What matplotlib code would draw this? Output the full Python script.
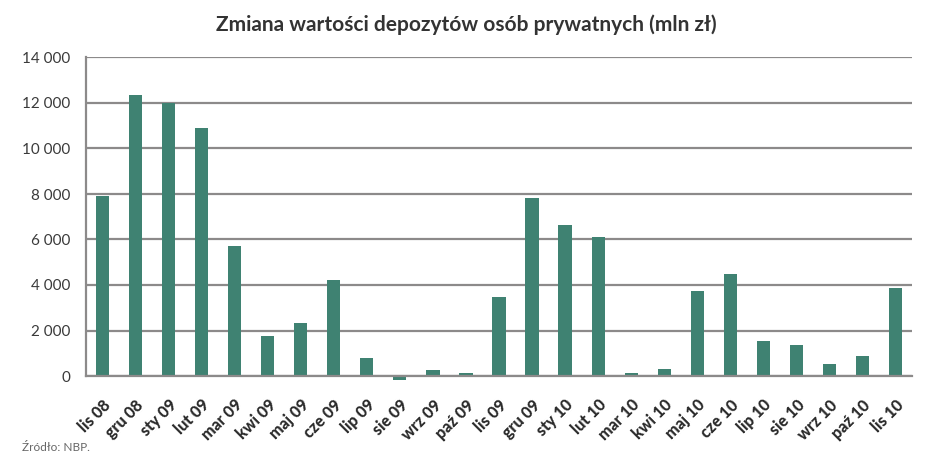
import numpy as np
import matplotlib
matplotlib.use('Agg')
import matplotlib.pyplot as plt

# dane (mln zł)
months = ['lis 08', 'gru 08', 'sty 09', 'lut 09', 'mar 09', 'kwi 09', 'maj 09',
          'cze 09', 'lip 09', 'sie 09', 'wrz 09', 'paź 09', 'lis 09', 'gru 09',
          'sty 10', 'lut 10', 'mar 10', 'kwi 10', 'maj 10', 'cze 10', 'lip 10',
          'sie 10', 'wrz 10', 'paź 10', 'lis 10']
values = [7920, 12360, 12020, 10880, 5710, 1750, 2330,
          4210, 780, -160, 250, 150, 3470, 7810,
          6630, 6090, 150, 310, 3730, 4480, 1530,
          1380, 530, 900, 3850]
yticks = [0, 2000, 4000, 6000, 8000, 10000, 12000, 14000]

plt.rcParams['font.family'] = ['Lato', 'DejaVu Sans']

bar_color = '#3f8272'
grid_color = '#8c8a8a'
text_color = '#3a3a3a'

fig = plt.figure(figsize=(9.38, 4.69), dpi=100)
ax = fig.add_axes([86 / 938, 1 - 376 / 469, (912 - 86) / 938, (376 - 57.5) / 469])

x = np.arange(len(months))
ax.bar(x, values, width=0.4, color=bar_color, zorder=3)

ax.set_xlim(-0.5, len(months) - 0.5)
ax.set_ylim(0, 14000)
ax.set_yticks(yticks)
ax.set_yticklabels(['{:,}'.format(v).replace(',', ' ') for v in yticks],
                   fontsize=11, color=text_color)
ax.yaxis.grid(True, color=grid_color, linewidth=1.6, zorder=1)
ax.set_axisbelow(True)
ax.tick_params(axis='y', length=0, pad=11)
ax.tick_params(axis='x', length=0, pad=15)

ax.set_xticks(x)
ax.set_xticklabels(months, rotation=45, ha='right', va='top',
                   rotation_mode='anchor', fontsize=11.5, fontweight='black',
                   color='#2a2a2a')

for s in ['top', 'right']:
    ax.spines[s].set_visible(False)
ax.spines['left'].set_color(grid_color)
ax.spines['left'].set_linewidth(1.6)
ax.spines['bottom'].set_color(grid_color)
ax.spines['bottom'].set_linewidth(1.6)
ax.spines['bottom'].set_zorder(4)

# negatywny słupek ma wychodzić poniżej osi
for b in ax.patches:
    b.set_clip_on(False)

fig.text(466 / 938, 1 - 25 / 469, 'Zmiana wartości depozytów osób prywatnych (mln zł)',
         ha='center', va='center', fontsize=15, fontweight='bold', color='#333333')
fig.text(22 / 938, 1 - 447 / 469, 'Źródło: NBP.', ha='left', va='center',
         fontsize=8.5, color='#666666')

fig.savefig('out.png', dpi=100)
